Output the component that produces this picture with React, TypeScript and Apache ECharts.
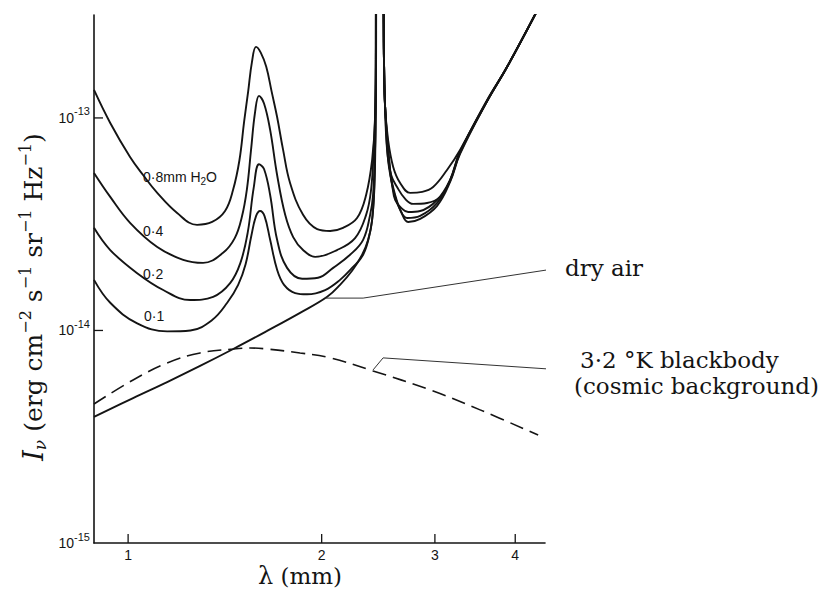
import React, { useEffect, useRef } from 'react';
import * as echarts from 'echarts';

// Intensities below are in units of 1e-14 erg cm^-2 s^-1 sr^-1 Hz^-1, wavelength in mm
const UNIT = 1e-14;

const xTickValues = [1, 2, 3, 4];
const yTickValues = [1e-15, 1e-14, 1e-13];

const h2o08: number[][] = [
  [0.885, 13.54], [0.938, 9.47], [1.007, 6.55], [1.055, 5.39], [1.11, 4.44], [1.192, 3.57],
  [1.28, 3.14], [1.351, 3.24], [1.415, 3.65], [1.456, 4.58], [1.49, 6.34],
  [1.515, 9.6], [1.537, 13.3], [1.558, 18.3], [1.581, 21.6], [1.608, 20.3], [1.64, 17.4],
  [1.672, 13.3], [1.705, 10.1], [1.742, 7.07], [1.786, 4.94], [1.871, 3.5], [1.968, 3.0],
  [2.062, 2.94], [2.159, 3.04], [2.27, 3.38], [2.345, 4.34], [2.396, 6.34], [2.421, 10.0],
  [2.435, 40], [2.49, 40], [2.5, 18.75], [2.51, 11.27], [2.537, 7.88], [2.584, 5.88],
  [2.649, 4.94], [2.746, 4.44], [2.867, 4.49], [2.981, 4.73], [3.133, 5.69], [3.283, 7.07],
  [3.617, 12.15], [3.886, 17.4], [4.373, 34.0],
];

const h2o04: number[][] = [
  [0.885, 5.51], [0.938, 4.25], [1.007, 3.21], [1.11, 2.47], [1.218, 2.15], [1.308, 2.08],
  [1.405, 2.32], [1.465, 2.72], [1.502, 3.4], [1.53, 4.6],
  [1.553, 7.07], [1.576, 10.7], [1.598, 12.7], [1.627, 11.7], [1.663, 8.78], [1.705, 5.39],
  [1.755, 3.5], [1.806, 2.75], [1.871, 2.39], [1.954, 2.22], [2.113, 2.39], [2.254, 2.72],
  [2.345, 3.5], [2.387, 4.58], [2.409, 7.07], [2.427, 12.15],
  [2.435, 40], [2.49, 40], [2.5, 18.75], [2.51, 11.27], [2.528, 7.07], [2.565, 5.39],
  [2.62, 4.73], [2.697, 4.16], [2.775, 3.94], [2.917, 3.98], [3.057, 4.25], [3.168, 5.1],
  [3.283, 6.95], [3.617, 12.05], [3.886, 17.4], [4.373, 34.0],
];

const h2o02: number[][] = [
  [0.885, 3.04], [0.938, 2.39], [1.033, 1.86], [1.134, 1.55], [1.249, 1.39], [1.356, 1.44],
  [1.441, 1.67], [1.495, 2.08], [1.535, 2.9],
  [1.568, 4.7], [1.598, 6.05], [1.627, 5.75], [1.663, 4.34], [1.705, 2.67], [1.767, 1.97],
  [1.865, 1.75], [1.974, 1.77], [2.084, 1.97], [2.214, 2.27], [2.32, 2.67], [2.379, 3.5],
  [2.404, 4.34], [2.421, 7.07], [2.427, 12.15],
  [2.435, 40], [2.49, 40], [2.5, 18.75], [2.51, 11.27], [2.537, 6.34], [2.574, 4.84],
  [2.602, 4.11], [2.659, 3.77], [2.726, 3.61], [2.846, 3.65], [3.024, 4.11], [3.168, 5.11],
  [3.283, 6.92], [3.617, 12.0], [3.886, 17.4], [4.373, 34.0],
];

const h2o01: number[][] = [
  [0.885, 1.73], [0.938, 1.35], [1.033, 1.08], [1.15, 0.99], [1.25, 1.0], [1.351, 1.12],
  [1.426, 1.35], [1.483, 1.64], [1.523, 2.05], [1.555, 2.8],
  [1.581, 3.45], [1.604, 3.65], [1.63, 3.45], [1.663, 2.67], [1.705, 1.93], [1.748, 1.64],
  [1.819, 1.5], [1.898, 1.48], [2.025, 1.55], [2.136, 1.73], [2.23, 1.97], [2.32, 2.27],
  [2.379, 2.91], [2.404, 3.69], [2.418, 5.69], [2.427, 12.15],
  [2.435, 40], [2.49, 40], [2.5, 18.75], [2.51, 11.27], [2.556, 5.69], [2.584, 4.58],
  [2.649, 3.69], [2.716, 3.38], [2.846, 3.46], [3.024, 3.98], [3.168, 5.05], [3.283, 6.85],
  [3.617, 12.0], [3.886, 17.4], [4.373, 34.0],
];

const dryAir: number[][] = [
  [0.885, 0.392], [1.018, 0.481], [1.15, 0.572], [1.294, 0.681], [1.457, 0.818], [1.645, 0.995],
  [1.851, 1.21], [2.04, 1.44], [2.136, 1.64], [2.23, 1.91], [2.312, 2.27], [2.362, 2.67],
  [2.396, 3.31], [2.418, 5.11], [2.427, 12.15],
  [2.435, 40], [2.49, 40], [2.5, 18.75], [2.51, 11.27], [2.556, 5.57], [2.602, 4.34],
  [2.659, 3.61], [2.726, 3.24], [2.846, 3.35], [3.024, 3.86], [3.168, 5.0], [3.283, 6.77],
  [3.617, 12.0], [3.886, 17.4], [4.373, 34.0],
];

const blackbody: number[][] = [
  [0.885, 0.451], [1.018, 0.585], [1.15, 0.703], [1.294, 0.784], [1.457, 0.818], [1.548, 0.827],
  [1.645, 0.818], [1.851, 0.784], [2.062, 0.743], [2.404, 0.645], [2.949, 0.525], [3.527, 0.423],
  [4.342, 0.322],
];

// leader lines from the curves to their text labels
const dryAirPointer: number[][] = [[2.025, 1.42], [2.32, 1.42], [4.5, 1.93]];
const blackbodyPointer: number[][] = [[2.404, 0.652], [2.492, 0.743], [4.5, 0.659]];

const SERIF = 'DejaVu Serif';
const SANS = 'Liberation Sans';
const INK = '#141414';

export default function App() {
  const ref = useRef<HTMLDivElement>(null);

  useEffect(() => {
    const chart = echarts.init(ref.current!, null, { renderer: 'svg' });
    const toData = (d: number[][]) => d.map(([x, y]) => [x, y * UNIT]);

    const curve = (name: string, data: number[][], dashed = false) => ({
      type: 'line',
      name,
      data: toData(data),
      symbol: 'none',
      showSymbol: false,
      smooth: 0.4,
      clip: true,
      silent: true,
      lineStyle: { color: INK, width: dashed ? 1.6 : 1.9, type: dashed ? [14, 7] : 'solid' },
    });

    const pointer = (name: string, data: number[][]) => ({
      type: 'line',
      name,
      data: toData(data),
      symbol: 'none',
      showSymbol: false,
      smooth: false,
      clip: false,
      silent: true,
      lineStyle: { color: '#333', width: 1 },
    });

    const texts: any[] = [
      {
        type: 'text', x: 143, y: 177,
        style: {
          text: '{n|0·8mm H}{s|2}{n|O}', align: 'left', verticalAlign: 'middle', fill: INK,
          rich: {
            n: { fontFamily: SANS, fontSize: 14, lineHeight: 18, fill: INK },
            s: { fontFamily: SANS, fontSize: 10, lineHeight: 10, verticalAlign: 'bottom', fill: INK },
          },
        },
      },
      { type: 'text', x: 143, y: 231, style: { text: '0·4', fontFamily: SANS, fontSize: 14, fill: INK, align: 'left', verticalAlign: 'middle' } },
      { type: 'text', x: 143, y: 274, style: { text: '0·2', fontFamily: SANS, fontSize: 14, fill: INK, align: 'left', verticalAlign: 'middle' } },
      { type: 'text', x: 144, y: 316, style: { text: '0·1', fontFamily: SANS, fontSize: 14, fill: INK, align: 'left', verticalAlign: 'middle' } },
      { type: 'text', x: 565, y: 268, style: { text: 'dry air', fontFamily: SERIF, fontSize: 23, fill: INK, align: 'left', verticalAlign: 'middle' } },
      { type: 'text', x: 580, y: 360, style: { text: '3·2 °K blackbody', fontFamily: SERIF, fontSize: 23, fill: INK, align: 'left', verticalAlign: 'middle' } },
      { type: 'text', x: 574, y: 386, style: { text: '(cosmic background)', fontFamily: SERIF, fontSize: 23, fill: INK, align: 'left', verticalAlign: 'middle' } },
      {
        type: 'text', x: 300, y: 576,
        style: {
          text: '{i|λ}{n| (mm)}', align: 'center', verticalAlign: 'middle', fill: INK,
          rich: {
            i: { fontFamily: SERIF, fontSize: 24, lineHeight: 28, fill: INK },
            n: { fontFamily: SERIF, fontSize: 23, lineHeight: 28, fill: INK },
          },
        },
      },
      {
        type: 'text', x: 33, y: 297, rotation: Math.PI / 2,
        style: {
          text: '{i|I}{sub|ν}{n| (erg cm}{sup|−2}{n| s}{sup|−1}{n| sr}{sup|−1}{n| Hz}{sup|−1}{n|)}',
          align: 'center', verticalAlign: 'middle', fill: INK,
          rich: {
            i: { fontFamily: SERIF, fontStyle: 'italic', fontSize: 27, lineHeight: 31, fill: INK },
            n: { fontFamily: SERIF, fontSize: 25, lineHeight: 31, fill: INK },
            sup: { fontFamily: SERIF, fontSize: 16, lineHeight: 19, verticalAlign: 'top', fill: INK },
            sub: { fontFamily: SERIF, fontStyle: 'italic', fontSize: 17, lineHeight: 10, verticalAlign: 'bottom', fill: INK },
          },
        },
      },
    ];

    const option: any = {
      animation: false,
      backgroundColor: '#ffffff',
      grid: { left: 94, top: 15, width: 451, height: 528, containLabel: false },
      xAxis: {
        type: 'log',
        logBase: 10,
        min: 0.885,
        max: 4.45,
        axisLine: { show: true, lineStyle: { color: INK, width: 1.6 } },
        axisTick: { show: false },
        axisLabel: {
          customValues: xTickValues,
          color: INK,
          fontFamily: SANS,
          fontSize: 14,
          margin: 5,
          formatter: (v: number) => String(Math.round(v)),
        },
        splitLine: { show: false },
        minorTick: { show: false },
      },
      yAxis: {
        type: 'log',
        logBase: 10,
        min: 1e-15,
        max: 3.05e-13,
        axisLine: { show: true, lineStyle: { color: INK, width: 1.6 } },
        axisTick: { show: false },
        axisLabel: {
          customValues: yTickValues,
          margin: 4,
          color: INK,
          formatter: (v: number) => `{b|10}{e|-${Math.round(-Math.log10(v))}}`,
          rich: {
            b: { fontFamily: SANS, fontSize: 14, lineHeight: 24, color: INK },
            e: { fontFamily: SANS, fontSize: 11, lineHeight: 15, verticalAlign: 'top', color: INK },
          },
        },
        splitLine: { show: false },
        minorTick: { show: false },
      },
      series: [
        curve('0·8 mm H2O', h2o08),
        curve('0·4', h2o04),
        curve('0·2', h2o02),
        curve('0·1', h2o01),
        curve('dry air', dryAir),
        curve('3·2 °K blackbody', blackbody, true),
        pointer('dry air pointer', dryAirPointer),
        pointer('blackbody pointer', blackbodyPointer),
      ],
      graphic: texts,
    };

    chart.setOption(option);

    // inward tick marks placed through the axes' own scales
    const TICK = 9;
    const x0 = chart.convertToPixel({ xAxisIndex: 0 }, 0.885) as number;
    const y0 = chart.convertToPixel({ yAxisIndex: 0 }, 1e-15) as number;
    const ticks: any[] = [];
    xTickValues.forEach((v) => {
      const px = chart.convertToPixel({ xAxisIndex: 0 }, v) as number;
      ticks.push({ type: 'line', silent: true, shape: { x1: px, y1: y0, x2: px, y2: y0 - TICK }, style: { stroke: INK, lineWidth: 1.3 } });
    });
    yTickValues.slice(1).forEach((v) => {
      const py = chart.convertToPixel({ yAxisIndex: 0 }, v) as number;
      ticks.push({ type: 'line', silent: true, shape: { x1: x0, y1: py, x2: x0 + TICK, y2: py }, style: { stroke: INK, lineWidth: 1.3 } });
    });
    chart.setOption({ graphic: [...texts, ...ticks] });

    return () => chart.dispose();
  }, []);

  return (
    <div
      ref={ref}
      style={{ position: 'absolute', left: 0, top: 0, width: 819, height: 598, background: '#fff' }}
    />
  );
}
